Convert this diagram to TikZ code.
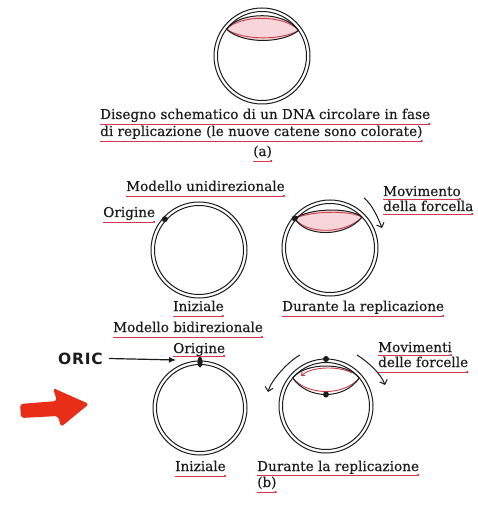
\documentclass[tikz,border=0pt]{standalone}
\usepackage{fontspec}
\usetikzlibrary{arrows.meta,calc}
\newfontfamily\lblfont[FakeBold=0.4]{DejaVu Serif}
\newfontfamily\handfont[LetterSpace=5]{DejaVu Sans}
\definecolor{ink}{RGB}{28,28,28}
\definecolor{ulred}{RGB}{214,52,74}
\definecolor{strandred}{RGB}{205,60,70}
\definecolor{bubble}{RGB}{246,214,218}
\definecolor{bigred}{RGB}{232,46,24}
\tikzset{
  lbl/.style={anchor=base west, inner sep=0pt, text=ink,
              font=\lblfont\fontsize{13.6}{15}\selectfont},
  ul/.style={draw=ulred, line width=0.7pt, -{Circle[length=2.2pt]}},
  dna/.style={draw=ink, line width=1pt},
  newstrand/.style={draw=strandred, line width=0.9pt},
  forkarrow/.style={draw=ink, line width=1pt, -{Straight Barb[length=4pt,width=8pt]}},
  origin/.style={circle, fill=ink, inner sep=0pt, minimum size=6pt},
}
\newcommand{\under}[2][5pt]{\draw[ul] ([yshift=-#1]#2.base west) -- ([yshift=-#1]#2.base east);}
\begin{document}
\begin{tikzpicture}[x=1pt,y=-1pt]
\useasboundingbox[fill=white] (0,0) rectangle (477,518);

% ---------- (a) circular DNA during replication ----------
\coordinate (ca) at (262,56);
\coordinate (aL) at (226.5,29.2);
\coordinate (aR) at (298.5,30.5);
\fill[bubble] (aL) .. controls (240,11) and (285,11) .. (aR)
              .. controls (282,44) and (242,44) .. (aL);
\draw[newstrand] (aL) .. controls (240,14.5) and (285,14.5) .. (aR);
\draw[newstrand] (aL) .. controls (242,40.5) and (282,40.5) .. (aR);
\draw[dna] (ca) circle (48pt);
\draw[dna] (ca) circle (44.5pt);
\draw[dna] (aL) .. controls (240,11) and (285,11) .. (aR);
\draw[dna] (aL) .. controls (242,44) and (282,44) .. (aR);

\node[lbl] (capa1) at (100,119) {Disegno schematico di un DNA circolare in fase};
\node[lbl] (capa2) at (100,136) {di replicazione (le nuove catene sono colorate)};
\node[lbl] (capa3) at (253,156) {(a)};
\under{capa1}
\under{capa2}
\under{capa3}

% ---------- unidirectional model ----------
\node[lbl] (unimod) at (126,191) {Modello unidirezionale};
\under{unimod}

% initial circle
\coordinate (cu1) at (199,250);
\draw[dna] (cu1) circle (48pt);
\draw[dna] (cu1) circle (44.5pt);
\node[origin] (uorig) at (164.8,219.2) {};
\node[lbl] (uorigl) at (103,217) {Origine};
\under{uorigl}
\node[lbl] (uinit) at (173,311) {Iniziale};
\under{uinit}

% during replication
\coordinate (cu2) at (330,248);
\coordinate (uR) at (362,217.1);
\fill[bubble] (294.8,218.4) .. controls (310,208) and (350,207) .. (uR)
              .. controls (345,238) and (305,237) .. (294.8,218.4);
\draw[newstrand] (294.8,218.4) .. controls (310,211) and (350,210) .. (uR);
\draw[newstrand] (294.8,218.4) .. controls (305,234) and (345,235) .. (uR);
\draw[dna] (cu2) circle (48pt);
\draw[dna] (cu2) circle (44.5pt);
\draw[dna] (294.8,218.4) .. controls (310,208) and (350,207) .. (uR);
\draw[dna] (294.8,218.4) .. controls (305,237) and (345,238) .. (uR);
\node[origin] (uorig2) at (294.8,218.4) {};
\coordinate (ufa) at (364,198);
\coordinate (ufb) at (382,228);
\draw[forkarrow] (ufa) .. controls (372,204) and (378.4,218.7) .. (ufb);
\node[lbl] (umov1) at (383,196) {Movimento};
\node[lbl] (umov2) at (383,211) {della forcella};
\under[3pt]{umov1}
\under[3pt]{umov2}
\node[lbl] (udur) at (282,311) {Durante la replicazione};
\under{udur}

% ---------- bidirectional model ----------
\node[lbl] (bimod) at (113,332) {Modello bidirezionale};
\under{bimod}

% initial circle
\coordinate (cb1) at (200,408);
\draw[dna] (cb1) circle (47pt);
\draw[dna] (cb1) circle (43.5pt);
\fill[ink] (200,362) ellipse [x radius=2.6pt, y radius=5.5pt];
\coordinate (borig) at (200,362);
\node[lbl] (borigl) at (173,353) {Origine};
\under[3pt]{borigl}
\node[lbl] (binit) at (175,471) {Iniziale};
\under{binit}

% handwritten oriC pointer
\node[anchor=base west, inner sep=0pt, text=ink,
      font=\handfont\bfseries\fontsize{15.5}{17}\selectfont] (oric) at (58,364) {ORIC};
\coordinate (oricend) at (176,360);
\draw[draw=ink, line width=1.2pt, -{Latex[length=7pt,width=6pt]}] ([xshift=6pt,yshift=5.5pt]oric.base east) -- (oricend);

% big red arrow
\fill[bigred, rounded corners=3pt] (20,404) -- (57,401) -- (53,388) -- (89,404)
     -- (61,427) -- (58,416) -- (21,418) -- cycle;

% during replication
\coordinate (cb2) at (326,406);
\coordinate (bL) at (292.7,378);
\coordinate (bR) at (359.3,378);
\draw[dna] (cb2) circle (47pt);
\draw[dna] (cb2) circle (43.5pt);
\draw[dna] (bL) .. controls (305,362) and (347,362) .. (bR);
\draw[newstrand] (bL) .. controls (308,396) and (344,396) .. (bR);
\draw[dna] (bL) .. controls (308,400) and (344,400) .. (bR);
\draw[draw=strandred, line width=0.9pt, -{Straight Barb[length=3pt,width=5pt]}]
     (352,373) .. controls (340,366) and (312,366) .. (301,376);
\node[origin] (btop) at (326,359) {};
\node[origin] (bbot) at (326,394.5) {};
\coordinate (bfa) at (300,355);
\coordinate (bfb) at (268,392);
\coordinate (bfc) at (357,355);
\coordinate (bfd) at (385,385);
\draw[forkarrow] (bfa) .. controls (289.3,360.5) and (270.8,380.4) .. (bfb);
\draw[forkarrow] (bfc) .. controls (367.3,361.2) and (381,373.7) .. (bfd);
\node[lbl] (bmov1) at (378,352) {Movimenti};
\node[lbl] (bmov2) at (378,367) {delle forcelle};
\under[3pt]{bmov1}
\under{bmov2}
\node[lbl] (bdur) at (257,471) {Durante la replicazione};
\under[4pt]{bdur}
\node[lbl] (bb) at (257,487) {(b)};
\under{bb}
\end{tikzpicture}
\end{document}
